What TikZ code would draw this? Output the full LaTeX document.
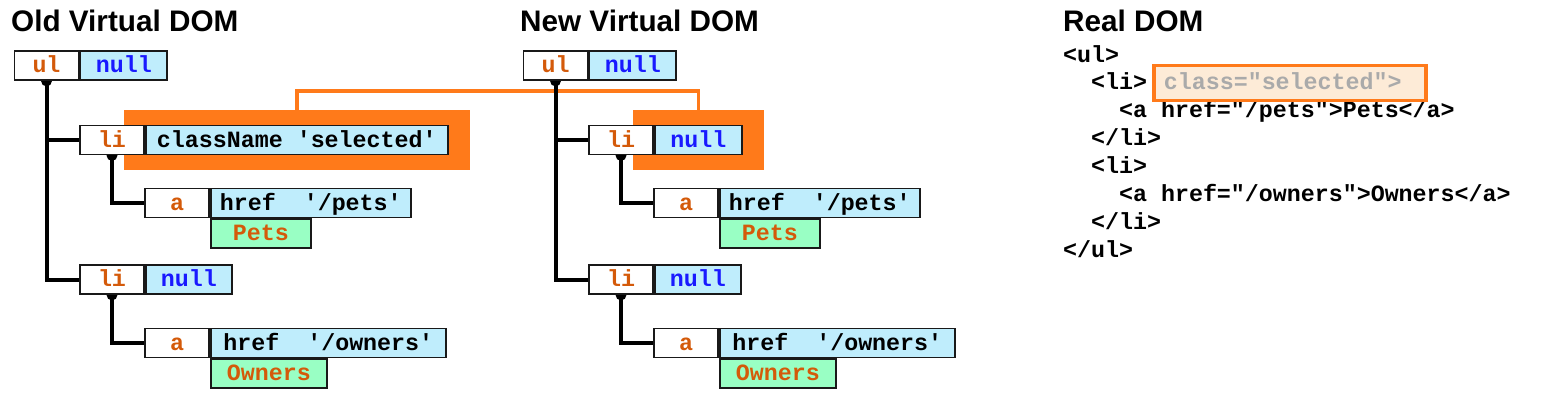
\documentclass[tikz,border=0pt]{standalone}
\usepackage{fontspec}
\newfontfamily\codefont{Liberation Mono}
\newfontfamily\headfont{Liberation Sans}
\usetikzlibrary{positioning,fit}

\definecolor{tagorange}{RGB}{212,90,10}
\definecolor{nullblue}{RGB}{25,25,255}
\definecolor{attrblue}{RGB}{191,237,252}
\definecolor{textgreen}{RGB}{153,255,196}
\definecolor{hlorange}{RGB}{255,122,26}
\definecolor{selfill}{RGB}{253,235,215}
\definecolor{selgray}{RGB}{170,170,170}

\pgfdeclarelayer{bg}
\pgfdeclarelayer{lines}
\pgfsetlayers{bg,lines,main}

\tikzset{
  headline/.style={anchor=base west, inner sep=0pt, font=\headfont\bfseries\fontsize{29.7}{30}\selectfont},
  codeline/.style={anchor=base west, inner sep=0pt, text height=16pt, text depth=2pt, font=\codefont\bfseries\fontsize{23.3}{24}\selectfont},
  tagbox/.style={draw=black!90, line width=1.8pt, fill=white, text=tagorange, minimum width=64pt, minimum height=29pt, inner sep=0pt, text height=16pt, text depth=2pt, font=\codefont\bfseries\fontsize{23.3}{24}\selectfont},
  attrbox/.style={tagbox, fill=attrblue, text=black},
  textbox/.style={tagbox, fill=textgreen},
  nullval/.style={text=nullblue},
  treeline/.style={line width=4pt},
  hilite/.style={fill=hlorange, inner xsep=21pt, inner ysep=14.5pt},
  linkline/.style={draw=hlorange, line width=3.5pt},
  selbox/.style={codeline, draw=hlorange, line width=3.2pt, fill=selfill, text=selgray, inner xsep=10pt, inner ysep=8.5pt, text width=252pt, align=left}
}

\begin{document}
\begin{tikzpicture}[x=1pt, y=-1pt]
  \useasboundingbox (0,0) rectangle (1566,408);
  % old and new virtual trees
  \foreach \tr/\dx/\hd/\lisel/\lw in {o/0/Old/{className 'selected'}/302, n/509/New/{\color{nullblue}null}/87}{
    \node[headline] (\tr-head) at (\dx+11,31) {\hd{} Virtual DOM};
    \node[tagbox] (\tr-ul) at (\dx+46.5,65.5) {ul};
    \node[attrbox, nullval, minimum width=87pt, right=0pt of \tr-ul] (\tr-ulv) {null};
    \node[tagbox] (\tr-li1) at (\dx+112,140) {li};
    \node[attrbox, minimum width=\lw pt, right=0pt of \tr-li1] (\tr-li1v) {\lisel};
    \node[tagbox] (\tr-a1) at (\dx+177,203) {a};
    \node[attrbox, minimum width=200pt, right=0pt of \tr-a1] (\tr-a1v) {href\ \ '/pets'};
    \node[textbox, minimum width=100pt, below right=0pt and 0pt of \tr-a1v.south west] (\tr-a1t) {Pets};
    \node[tagbox] (\tr-li2) at (\dx+112,279.5) {li};
    \node[attrbox, nullval, minimum width=86pt, right=0pt of \tr-li2] (\tr-li2v) {null};
    \node[tagbox] (\tr-a2) at (\dx+177,343) {a};
    \node[attrbox, minimum width=235pt, right=0pt of \tr-a2] (\tr-a2v) {href\ \ '/owners'};
    \node[textbox, minimum width=116pt, below right=0pt and 0pt of \tr-a2v.south west] (\tr-a2t) {Owners};
    \begin{pgfonlayer}{bg}
      \node[hilite, fit=(\tr-li1v)] (\tr-hl) {};
    \end{pgfonlayer}
    \begin{pgfonlayer}{lines}
      \draw[treeline] (\tr-ul.south) |- (\tr-li1.west);
      \draw[treeline] (\tr-ul.south) |- (\tr-li2.west);
      \draw[treeline] (\tr-li1.south) |- (\tr-a1.west);
      \draw[treeline] (\tr-li2.south) |- (\tr-a2.west);
      \fill (\tr-ul.south) circle (5.5pt);
      \fill (\tr-li1.south) circle (5.5pt);
      \fill (\tr-li2.south) circle (5.5pt);
    \end{pgfonlayer}
  }
  \begin{pgfonlayer}{bg}
    \draw[linkline] (o-hl.north) -- ++(0,-19) -| (n-hl.north);
  \end{pgfonlayer}
  % real dom
  \node[headline] (r-head) at (1063,31) {Real DOM};
  \foreach \n/\ind/\txt [count=\k from 0] in {ul/0/{<ul>}, li1/2/{<li>}, a1/4/{<a href="/pets">Pets</a>}, lie1/2/{</li>}, li2/2/{<li>}, a2/4/{<a href="/owners">Owners</a>}, lie2/2/{</li>}, ule/0/{</ul>}}
    \node[codeline] (r-\n) at ({1063+13.98*\ind},{62+27.9*\k}) {\txt};
  \node[selbox, right=5pt of r-li1] (r-sel) {class="selected">};
\end{tikzpicture}
\end{document}
